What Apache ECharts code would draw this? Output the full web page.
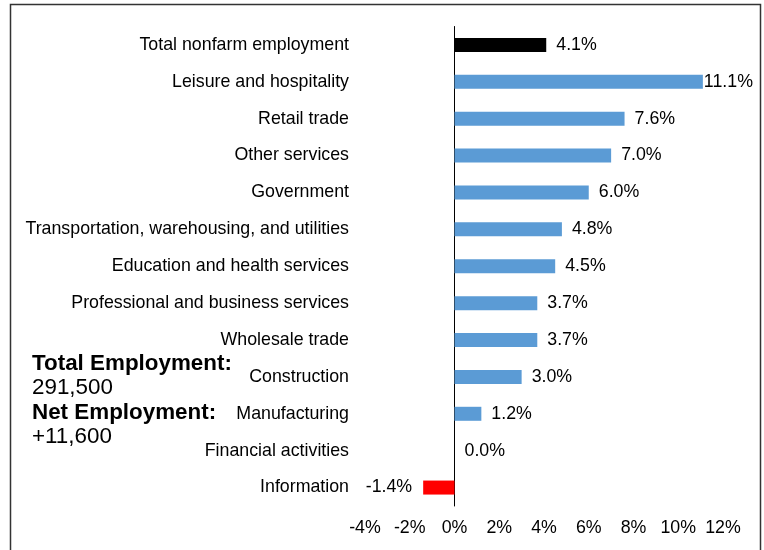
<!DOCTYPE html>
<html>
<head>
<meta charset="utf-8">
<script src="https://cdn.jsdelivr.net/npm/echarts@6/dist/echarts.min.js"></script>
<style>
html,body{margin:0;padding:0;background:#fff;}
#chart{width:764px;height:550px;}
</style>
</head>
<body>
<div id="chart"></div>
<script>
var categories = [
  "Total nonfarm employment",
  "Leisure and hospitality",
  "Retail trade",
  "Other services",
  "Government",
  "Transportation, warehousing, and utilities",
  "Education and health services",
  "Professional and business services",
  "Wholesale trade",
  "Construction",
  "Manufacturing",
  "Financial activities",
  "Information"
];
var values = [4.1, 11.1, 7.6, 7.0, 6.0, 4.8, 4.5, 3.7, 3.7, 3.0, 1.2, 0.0, -1.4];
var xTicks = [-4, -2, 0, 2, 4, 6, 8, 10, 12];
var noteLines = ["Total Employment:", "291,500", "Net Employment:", "+11,600"];

var FONT = "'Liberation Sans', Arial, sans-serif";
var chart = echarts.init(document.getElementById('chart'));

var seriesData = values.map(function (v, i) {
  var color = i === 0 ? '#000000' : (v < 0 ? '#ff0000' : '#5b9bd5');
  var item = {
    value: v,
    itemStyle: { color: color },
    label: { position: v < 0 ? 'left' : 'right', distance: v < 0 ? 11 : 10 }
  };
  if (v > 10) { item.label.distance = 1; }
  return item;
});

chart.setOption({
  animation: false,
  backgroundColor: '#ffffff',
  grid: { left: 365, right: 41, top: 26.5, bottom: 44, containLabel: false, outerBoundsMode: 'none' },
  xAxis: {
    type: 'value',
    min: xTicks[0],
    max: xTicks[xTicks.length - 1],
    interval: 2,
    splitLine: { show: false },
    axisLine: { show: false },
    axisTick: { show: false },
    axisLabel: {
      formatter: function (v) { return v + '%'; },
      color: '#000',
      fontFamily: FONT,
      fontSize: 17.8,
      margin: 13
    }
  },
  yAxis: {
    type: 'category',
    data: categories,
    inverse: true,
    axisLine: { show: true, onZero: true, lineStyle: { color: '#000', width: 1 } },
    axisTick: { show: false },
    axisLabel: {
      color: '#000',
      fontFamily: FONT,
      fontSize: 17.8,
      margin: 16
    }
  },
  series: [{
    type: 'bar',
    data: seriesData,
    barWidth: 14,
    label: {
      show: true,
      color: '#000',
      fontFamily: FONT,
      fontSize: 17.8,
      formatter: function (p) { return p.value.toFixed(1) + '%'; }
    }
  }],
  graphic: [
    {
      type: 'rect',
      shape: { x: 10.5, y: 4.5, width: 750, height: 560 },
      style: { fill: 'none', stroke: '#333', lineWidth: 1.5 },
      silent: true
    },
    { type: 'text', left: 32, top: 353, style: { text: noteLines[0], font: "bold 22.4px " + FONT, fill: '#000' } },
    { type: 'text', left: 32, top: 377, style: { text: noteLines[1], font: "22.4px " + FONT, fill: '#000' } },
    { type: 'text', left: 32, top: 402, style: { text: noteLines[2], font: "bold 22.4px " + FONT, fill: '#000' } },
    { type: 'text', left: 32, top: 426, style: { text: noteLines[3], font: "22.4px " + FONT, fill: '#000' } }
  ]
});
</script>
</body>
</html>
